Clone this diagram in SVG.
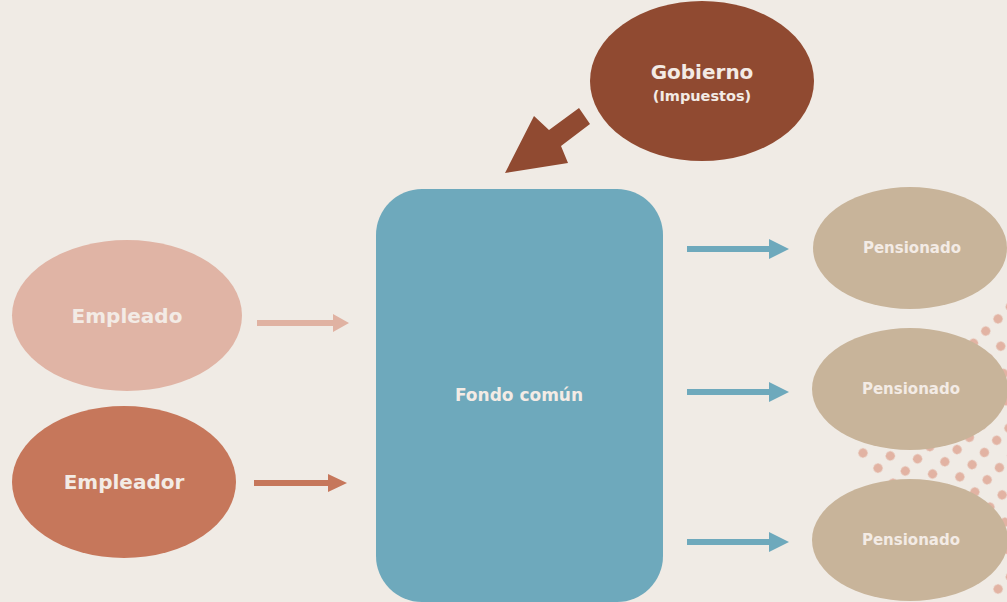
<svg xmlns="http://www.w3.org/2000/svg" width="1007" height="602" viewBox="0 0 1007 602">
<defs>
<style>
.t{font-family:"DejaVu Sans","Liberation Sans",sans-serif;font-weight:bold;fill:#F3EBE5;text-anchor:middle}
.pen{fill:#C8B49A}
.blue{fill:#6EA9BC}
</style>
<pattern id="dots" patternUnits="userSpaceOnUse" width="21.3" height="17.3" patternTransform="translate(863 453) rotate(45.2) translate(-10.65 -8.65)">
<circle cx="10.65" cy="8.65" r="4.6" fill="#E2B3A3"/>
</pattern>
</defs>
<rect width="1007" height="602" fill="#F0EBE5"/>
<polygon points="1012,292 852,456 1012,616" fill="url(#dots)"/>
<g id="connectors">
<polygon points="579,108 590,124 561,146 568,163 505,173 534,116 549,130" fill="#904A31"/>
<polygon points="257,320 333,320 333,314 349,323 333,332 333,326 257,326" fill="#E0B2A2"/>
<polygon points="254,480 328,480 328,474 347,483 328,492 328,486 254,486" fill="#C6775B"/>
<polygon points="687,246 769,246 769,239 789,249 769,259 769,252 687,252" class="blue"/>
<polygon points="687,389 769,389 769,382 789,392 769,402 769,395 687,395" class="blue"/>
<polygon points="687,539 769,539 769,532 789,542 769,552 769,545 687,545" class="blue"/>
</g>
<g id="gobierno">
<ellipse cx="702" cy="81" rx="112" ry="80" fill="#904A31"/>
<text class="t" x="702" y="79" font-size="20">Gobierno</text>
<text class="t" x="702" y="101" font-size="14.5">(Impuestos)</text>
</g>
<g id="fondo">
<rect x="376" y="189" width="287" height="413" rx="46" ry="46" class="blue"/>
<text class="t" x="519" y="401" font-size="17">Fondo común</text>
</g>
<g id="empleado">
<ellipse cx="127" cy="315.5" rx="115" ry="75.5" fill="#E0B4A5"/>
<text class="t" x="127" y="323" font-size="20">Empleado</text>
</g>
<g id="empleador">
<ellipse cx="124" cy="482" rx="112" ry="76" fill="#C6775B"/>
<text class="t" x="124" y="489" font-size="20">Empleador</text>
</g>
<g id="pensionado1">
<ellipse cx="910" cy="248" rx="97" ry="61" class="pen"/>
<text class="t" x="912" y="253" font-size="15">Pensionado</text>
</g>
<g id="pensionado2">
<ellipse cx="910" cy="389" rx="98" ry="61" class="pen"/>
<text class="t" x="911" y="394" font-size="15">Pensionado</text>
</g>
<g id="pensionado3">
<ellipse cx="910" cy="540" rx="98" ry="61" class="pen"/>
<text class="t" x="911" y="545" font-size="15">Pensionado</text>
</g>
</svg>
